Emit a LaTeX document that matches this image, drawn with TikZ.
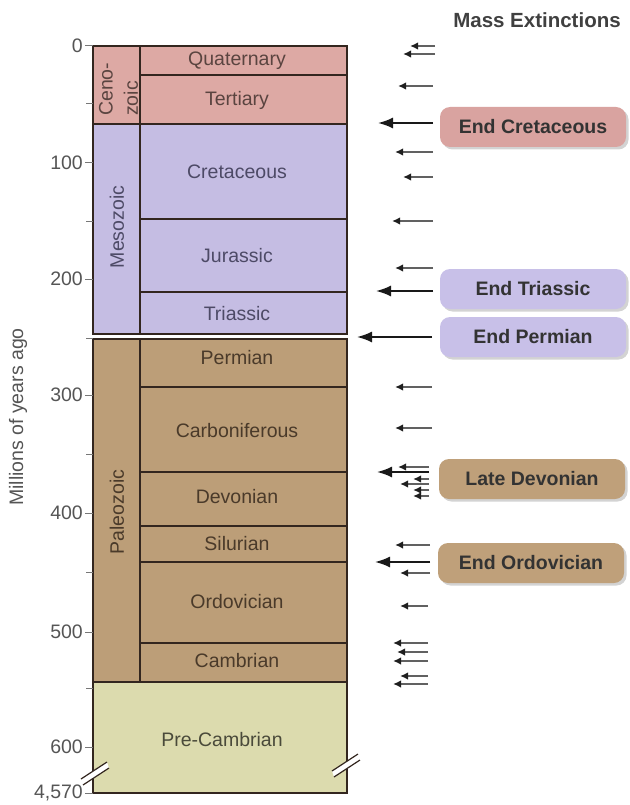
\documentclass[tikz,border=0pt]{standalone}
\usepackage{fontspec}
\setmainfont{Liberation Sans}
\usetikzlibrary{shadows,arrows.meta}
\definecolor{cen}{HTML}{DDA9A4}
\definecolor{mes}{HTML}{C5BDE3}
\definecolor{pal}{HTML}{BC9E78}
\definecolor{pre}{HTML}{DCDBAE}
\definecolor{lbcen}{HTML}{D9A3A0}
\definecolor{lbmes}{HTML}{C8C0E8}
\definecolor{lbpal}{HTML}{BFA07A}
\definecolor{edge}{HTML}{33261F}
\definecolor{cent}{HTML}{5A4440}
\definecolor{mest}{HTML}{4D4A66}
\definecolor{palt}{HTML}{4A3A2A}
\definecolor{pret}{HTML}{4A4A3A}
\definecolor{axt}{HTML}{555555}
\begin{document}
\begin{tikzpicture}[x=1pt,y=-1pt,
  txt/.style={font=\fontsize{19.5}{23}\selectfont, inner sep=0pt},
  prd/.style={txt},
  era/.style={txt, rotate=90},
  ticklab/.style={txt, text=axt, anchor=east},
  tickln/.style={draw=axt!80, line width=1pt},
  border/.style={draw=edge, line width=1.8pt},
  lbox/.style={font=\bfseries\fontsize{19.5}{23}\selectfont, text=black!80, rounded corners=10pt,
     minimum width=186pt, minimum height=40pt, inner sep=0pt,
     drop shadow={shadow xshift=2.5pt, shadow yshift=-2.5pt, opacity=0.35}},
  minorarr/.style={draw=black!62, line width=2.4pt, -{Latex[length=8pt,width=7.5pt,color=black!88]}},
  majorarr/.style={draw=black!90, line width=1.8pt, -{Latex[length=15pt,width=11pt]}}
]
\useasboundingbox (0,0) rectangle (629,805);

% fills
\fill[cen] (93,46) rectangle (347,124);
\fill[mes] (93,124) rectangle (347,334);
\fill[pal] (93,339) rectangle (347,682);
\fill[pre] (93,682) rectangle (347,793);

% period boundaries
\foreach \y in {75,219,292,387,472,526,562,643} \draw[border] (140,\y) -- (347,\y);
\draw[border] (93,124) -- (347,124);
\draw[border] (93,682) -- (347,682);
% era column divider
\draw[border] (140,46) -- (140,334);
\draw[border] (140,339) -- (140,682);
% outlines
\draw[border] (93,46) rectangle (347,334);
\draw[border] (93,339) rectangle (347,793);

% break marks
\fill[white] (81,779) -- (107,762) -- (109,768) -- (83,785) -- cycle;
\draw[edge, line width=1.2pt] (81,779) -- (107,762);
\draw[edge, line width=1.2pt] (83,785) -- (109,768);
\fill[white] (332,771) -- (358,754) -- (360,760) -- (334,777) -- cycle;
\draw[edge, line width=1.2pt] (332,771) -- (358,754);
\draw[edge, line width=1.2pt] (334,777) -- (360,760);

% period labels
\node[prd, text=cent] (quat) at (237,61) {Quaternary};
\node[prd, text=cent] (tert) at (237,100) {Tertiary};
\node[prd, text=mest] (cret) at (237,172) {Cretaceous};
\node[prd, text=mest] (jura) at (237,256) {Jurassic};
\node[prd, text=mest] (tria) at (237,314) {Triassic};
\node[prd, text=palt] (perm) at (237,358) {Permian};
\node[prd, text=palt] (carb) at (237,431) {Carboniferous};
\node[prd, text=palt] (devo) at (237,497) {Devonian};
\node[prd, text=palt] (silu) at (237,544) {Silurian};
\node[prd, text=palt] (ordo) at (237,602) {Ordovician};
\node[prd, text=palt] (camb) at (237,661) {Cambrian};
\node[prd, text=pret] (prec) at (222,740) {Pre-Cambrian};

% era labels
\node[era, text=cent, anchor=west] (ceno1) at (106,116) {Ceno-};
\node[era, text=cent, anchor=west] (ceno2) at (131,116) {zoic};
\node[era, text=mest] (meso) at (117,227) {Mesozoic};
\node[era, text=palt] (pale) at (117,512) {Paleozoic};

% axis
\foreach \y/\lab [count=\i] in {46/0,163/100,279/200,395/300,513/400,632/500,747/600,793/{4,570}}{
  \draw[tickln] (85,\y) -- (93,\y);
  \node[ticklab] (tl\i) at (83,\y) {\lab};
}
\foreach \y in {104,221,338,454,572,688} \draw[tickln] (86,\y) -- (93,\y);
\node[txt, text=axt, rotate=90] (ylab) at (18,417) {Millions of years ago};

% title
\node[font=\bfseries\fontsize{20.5}{24}\selectfont, text=black!75, inner sep=0pt] (title) at (537,20) {Mass Extinctions};

% labels
\node[lbox, fill=lbcen] (kpg) at (533,127) {End Cretaceous};
\node[lbox, fill=lbmes] (etr) at (533,289) {End Triassic};
\node[lbox, fill=lbmes] (epe) at (533,337) {End Permian};
\node[lbox, fill=lbpal] (ldv) at (532,479) {Late Devonian};
\node[lbox, fill=lbpal] (eor) at (531,563) {End Ordovician};

% minor extinction arrows
\foreach \y/\h/\t [count=\i] in {46/410/435, 54/403/435, 86/398/433, 152/395/433, 177/403/433,
   221/392/433, 268/395/433, 387/395/432, 428/395/432, 467/398/429, 479/413/429, 484/400/429,
   490/413/429, 496/413/429, 545/395/430, 573/400/430, 606/400/428, 643/393/428, 652/397/428,
   661/393/428, 676/400/428, 684/393/428}{
  \coordinate (st\i) at (\t,\y);
  \coordinate (sh\i) at (\h,\y);
  \draw[minorarr] (st\i) -- (sh\i);
}
% major extinction arrows
\foreach \y/\h/\t/\n in {123/378/433/kpg, 291/376/433/etr, 337/357/432/epe, 472/377/429/ldv, 562/375/430/eor}{
  \coordinate (mt\n) at (\t,\y);
  \coordinate (mh\n) at (\h,\y);
  \draw[majorarr] (mt\n) -- (mh\n);
}
\end{tikzpicture}
\end{document}
